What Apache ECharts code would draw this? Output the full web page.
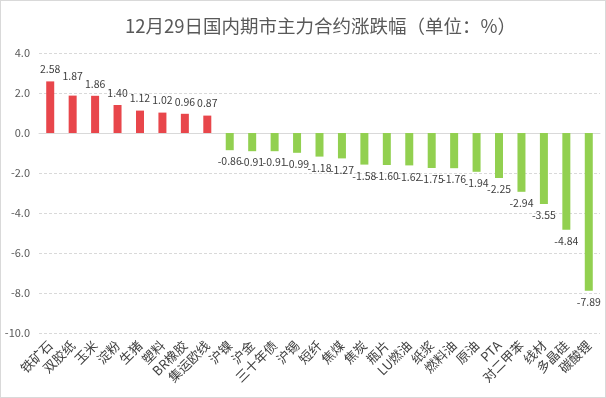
<!DOCTYPE html>
<html><head><meta charset="utf-8">
<script src="https://cdn.jsdelivr.net/npm/echarts@6/dist/echarts.min.js"></script>
<style>html,body{margin:0;padding:0;background:#fff}#c{width:606px;height:398px;box-sizing:border-box;border:1px solid #d9d9d9}</style>
</head><body><div id="c"></div>
<script>
const title = '12月29日国内期市主力合约涨跌幅（单位：%）';
const categories = ['铁矿石','双胶纸','玉米','淀粉','生猪','塑料','BR橡胶','集运欧线','沪镍','沪金','三十年债','沪锡','短纤','焦煤','焦炭','瓶片','LU燃油','纸浆','燃料油','原油','PTA','对二甲苯','线材','多晶硅','碳酸锂'];
const values = [2.58,1.87,1.86,1.40,1.12,1.02,0.96,0.87,-0.86,-0.91,-0.91,-0.99,-1.18,-1.27,-1.58,-1.60,-1.62,-1.75,-1.76,-1.94,-2.25,-2.94,-3.55,-4.84,-7.89];
const yMin = -10, yMax = 4, yStep = 2;

const chart = echarts.init(document.getElementById('c'));
chart.setOption({
  animation:false,
  title:{text:title,left:119,top:11,textStyle:{fontSize:18.5,fontWeight:'normal',color:'#595959',fontFamily:'Microsoft YaHei, Noto Sans CJK SC, sans-serif'}},
  grid:{left:38,right:5,top:52,bottom:64,containLabel:false},
  xAxis:{type:'category',data:categories,
    axisLine:{show:true,onZero:true,lineStyle:{color:'#d9d9d9'}},
    axisTick:{show:false},
    axisLabel:{rotate:45,interval:0,fontSize:13,color:'#404040',margin:10,fontFamily:'Noto Sans CJK SC, sans-serif'}},
  yAxis:{type:'value',min:yMin,max:yMax,interval:yStep,
    axisLine:{show:false},axisTick:{show:false},
    axisLabel:{formatter:v=>v.toFixed(1),fontSize:11,color:'#595959',margin:9,fontFamily:'Noto Sans CJK SC, sans-serif'},
    splitLine:{lineStyle:{color:'#d9d9d9',type:[3,2]}}},
  series:[{type:'bar',barWidth:8,
    data:values.map((v,i)=>({value:v,itemStyle:{color:v>=0?'#E8464B':'#92D050'},
      label:{show:true,position:v>=0?'top':'bottom',distance:v>=0?(i===1?14:7):6,formatter:()=>v.toFixed(2)}})),
    label:{fontSize:10.5,color:'#404040',fontFamily:'Noto Sans CJK SC, sans-serif'}}]
});
</script></body></html>
